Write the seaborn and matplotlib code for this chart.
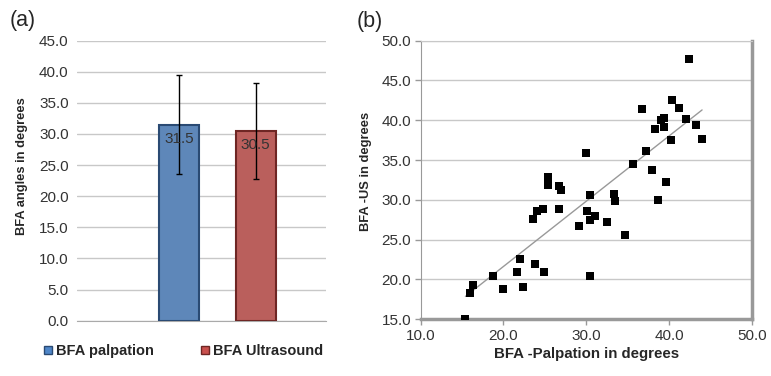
import numpy as np
import pandas as pd
import matplotlib
matplotlib.use('Agg')
import matplotlib.pyplot as plt
import seaborn as sns

sns.set_style('white')
plt.rcParams['font.family'] = ['Liberation Sans', 'DejaVu Sans']

# panel (a): mean angles with SD
methods = ['BFA palpation', 'BFA Ultrasound']
means = [31.5, 30.5]
sds = [7.95, 7.75]
bar_colors = ['#4F86C8', '#C9504D']
edge_colors = ['#2A4A73', '#6E2624']

# panel (b): palpation vs ultrasound
palpation = [15.4, 16.0, 16.3, 18.7, 20.0, 21.6, 22.0, 22.3, 23.8, 24.9,
             23.6, 24.0, 24.8, 25.4, 25.4, 25.4, 26.7, 26.9, 26.7, 29.1,
             30.0, 30.1, 30.5, 30.5, 31.0, 30.5, 32.5, 33.4, 33.5, 34.7,
             35.7, 36.7, 37.2, 38.0, 38.3, 38.7, 39.0, 39.4, 39.4, 39.6,
             40.2, 40.4, 41.2, 42.1, 42.4, 43.3, 44.0]
ultrasound = [15.0, 18.3, 19.3, 20.5, 18.8, 21.0, 22.6, 19.1, 22.0, 21.0,
              27.6, 28.6, 28.8, 32.9, 32.4, 31.9, 31.8, 31.3, 28.9, 26.7,
              35.9, 28.6, 30.6, 27.5, 28.0, 20.5, 27.2, 30.7, 29.8, 25.6,
              34.5, 41.4, 36.1, 33.8, 38.9, 30.0, 40.0, 40.3, 39.2, 32.3,
              37.5, 42.5, 41.6, 40.2, 47.7, 39.4, 37.6]

df_a = pd.DataFrame({'method': methods, 'mean': means, 'sd': sds})
df_b = pd.DataFrame({'palp': palpation, 'us': ultrasound})

fig = plt.figure(figsize=(7.71, 3.76), dpi=100)
ax1 = fig.add_axes([0.0999, 0.147, 0.323, 0.745])
ax2 = fig.add_axes([0.5457, 0.1508, 0.4293, 0.741])

grid_c = '#c8c8c8'
tick_fs = 11
vlab_fs = 9.3

# ---- (a) bars
sns.barplot(data=df_a, x='method', y='mean', hue='method', palette=bar_colors,
            width=0.52, legend=False, ax=ax1, zorder=3)
for patch, ec in zip(ax1.patches, edge_colors):
    patch.set_edgecolor(ec)
    patch.set_linewidth(1.5)
ax1.errorbar(range(len(methods)), df_a['mean'], yerr=df_a['sd'], fmt='none',
             ecolor='black', elinewidth=1, capsize=2.5, capthick=1, zorder=4)
for i, m in enumerate(means):
    ax1.annotate(f'{m:.1f}', (i, m), xytext=(0, -5), textcoords='offset points',
                 ha='center', va='top', fontsize=11, color='#333333', zorder=5)
ax1.set_xlim(-1.333, 1.92)
ax1.set_ylim(0, 45)
ax1.set_yticks(np.arange(0, 46, 5))
ax1.set_yticklabels([f'{v:.1f}' for v in np.arange(0, 46, 5)], fontsize=tick_fs, color='#333333')
ax1.set_xticks([])
ax1.set_xlabel('')
ax1.set_ylabel('BFA angles in degrees', fontsize=vlab_fs, fontweight='bold')
ax1.yaxis.set_label_coords(-0.196, 0.552)
ax1.yaxis.grid(True, color=grid_c, lw=1)
ax1.set_axisbelow(True)
for s in ['top', 'right', 'left']:
    ax1.spines[s].set_visible(False)
ax1.spines['bottom'].set_color('#aaaaaa')
ax1.tick_params(axis='y', length=0, pad=6)

handles = [plt.Rectangle((0, 0), 1, 1, facecolor=c, edgecolor=e, lw=1)
           for c, e in zip(bar_colors, edge_colors)]
fig.legend(handles, methods, loc='center', bbox_to_anchor=(0.238, 0.066), ncol=2,
           frameon=False, handlelength=0.55, handleheight=0.55, handletextpad=0.3,
           columnspacing=3.2, prop={'size': 10.5, 'weight': 'bold'})

# ---- (b) scatter with OLS line
sns.scatterplot(data=df_b, x='palp', y='us', marker='s', s=38, color='black',
                edgecolor='black', linewidth=0, ax=ax2, zorder=4)
slope, intercept = np.polyfit(df_b['palp'], df_b['us'], 1)
xs = np.linspace(df_b['palp'].min(), df_b['palp'].max(), 50)
ax2.plot(xs, slope * xs + intercept, color='#999999', lw=1, zorder=3)
ax2.set_xlim(10, 50)
ax2.set_ylim(15, 50)
ax2.set_xticks(np.arange(10, 51, 10))
ax2.set_xticklabels([f'{v:.1f}' for v in np.arange(10, 51, 10)], fontsize=tick_fs, color='#333333')
ax2.set_yticks(np.arange(15, 51, 5))
ax2.set_yticklabels([f'{v:.1f}' for v in np.arange(15, 51, 5)], fontsize=tick_fs, color='#333333')
ax2.yaxis.grid(True, color=grid_c, lw=1)
ax2.set_axisbelow(True)
ax2.set_xlabel('BFA -Palpation in degrees', fontsize=10.8, fontweight='bold', labelpad=3)
ax2.set_ylabel('BFA -US in degrees', fontsize=vlab_fs, fontweight='bold')
ax2.yaxis.set_label_coords(-0.148, 0.532)
ax2.spines['top'].set_color(grid_c)
ax2.spines['left'].set_color('#999999')
ax2.spines['bottom'].set_color('#999999')
ax2.spines['bottom'].set_linewidth(2.5)
ax2.spines['right'].set_color('#999999')
ax2.spines['right'].set_linewidth(2.5)
ax2.tick_params(axis='both', direction='out', length=4, color='#999999', width=1, pad=3,
                bottom=True, left=True)

fig.text(0.013, 0.93, '(a)', fontsize=15.5)
fig.text(0.463, 0.928, '(b)', fontsize=15.5)

fig.savefig('out.png', dpi=100, facecolor='white')
